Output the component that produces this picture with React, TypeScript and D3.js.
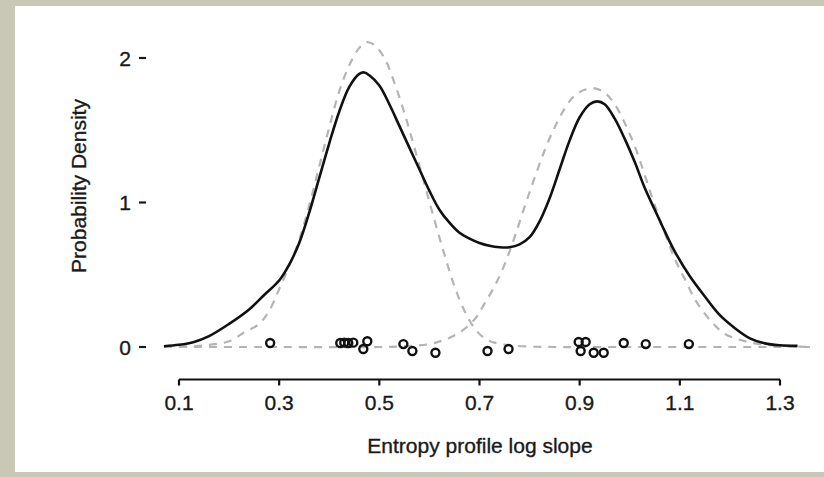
import React from "react";
import * as d3 from "d3";

// ---- data ----
const xTicks = [0.1, 0.3, 0.5, 0.7, 0.9, 1.1, 1.3];
const xTickLabels = ["0.1", "0.3", "0.5", "0.7", "0.9", "1.1", "1.3"];
const yTicks = [0, 1, 2];
const yTickLabels = ["0", "1", "2"];

// kernel density estimate (solid black)
const kdeX = [0.07, 0.1, 0.13, 0.16, 0.2, 0.24, 0.27, 0.3, 0.32, 0.34, 0.36, 0.38, 0.4, 0.42, 0.44, 0.46, 0.47, 0.48, 0.5, 0.52, 0.54, 0.56, 0.58, 0.6, 0.62, 0.64, 0.66, 0.68, 0.7, 0.72, 0.74, 0.76, 0.78, 0.8, 0.82, 0.84, 0.86, 0.88, 0.9, 0.92, 0.935, 0.95, 0.97, 0.99, 1.01, 1.03, 1.05, 1.07, 1.09, 1.12, 1.15, 1.18, 1.21, 1.24, 1.27, 1.3, 1.335];
const kdeY = [0.005, 0.015, 0.035, 0.075, 0.16, 0.26, 0.36, 0.46, 0.57, 0.72, 0.93, 1.17, 1.41, 1.63, 1.8, 1.89, 1.9, 1.88, 1.81, 1.68, 1.53, 1.38, 1.23, 1.08, 0.95, 0.86, 0.79, 0.75, 0.72, 0.7, 0.69, 0.69, 0.71, 0.76, 0.87, 1.03, 1.23, 1.43, 1.59, 1.68, 1.7, 1.68, 1.58, 1.44, 1.28, 1.1, 0.95, 0.8, 0.66, 0.49, 0.35, 0.22, 0.13, 0.06, 0.025, 0.012, 0.008];

// mixture component 1 (dashed grey)
const comp1X = [0.07, 0.12, 0.16, 0.2, 0.23, 0.26, 0.28, 0.3, 0.32, 0.34, 0.36, 0.38, 0.4, 0.42, 0.44, 0.46, 0.475, 0.49, 0.51, 0.53, 0.55, 0.57, 0.59, 0.61, 0.63, 0.65, 0.67, 0.69, 0.71, 0.73, 0.76, 0.8, 0.85, 1.0, 1.2, 1.36];
const comp1Y = [0.0, 0.005, 0.015, 0.04, 0.1, 0.16, 0.25, 0.4, 0.56, 0.74, 0.98, 1.25, 1.52, 1.77, 1.95, 2.07, 2.11, 2.09, 2.0, 1.83, 1.62, 1.38, 1.13, 0.88, 0.64, 0.42, 0.25, 0.13, 0.06, 0.03, 0.012, 0.003, 0.0, 0.0, 0.0, 0.0];

// mixture component 2 (dashed grey)
const comp2X = [0.07, 0.3, 0.5, 0.55, 0.6, 0.63, 0.66, 0.69, 0.71, 0.73, 0.75, 0.77, 0.79, 0.81, 0.83, 0.85, 0.87, 0.89, 0.91, 0.93, 0.95, 0.97, 0.99, 1.01, 1.03, 1.05, 1.07, 1.09, 1.11, 1.13, 1.15, 1.17, 1.19, 1.22, 1.25, 1.29, 1.36];
const comp2Y = [0.0, 0.0, 0.0, 0.005, 0.02, 0.05, 0.1, 0.19, 0.3, 0.42, 0.57, 0.76, 0.97, 1.17, 1.36, 1.52, 1.65, 1.74, 1.78, 1.79, 1.76, 1.68, 1.55, 1.39, 1.19, 0.98, 0.79, 0.61, 0.47, 0.33, 0.23, 0.15, 0.09, 0.05, 0.025, 0.01, 0.0];

// observations (x) with vertical jitter (y, density units)
const obsX = [0.282, 0.422, 0.43, 0.438, 0.448, 0.476, 0.468, 0.548, 0.566, 0.612, 0.716, 0.758, 0.898, 0.912, 0.902, 0.928, 0.948, 0.988, 1.032, 1.118];
const obsJitter = [0.028, 0.028, 0.03, 0.028, 0.03, 0.04, -0.014, 0.02, -0.028, -0.04, -0.028, -0.014, 0.035, 0.035, -0.028, -0.04, -0.04, 0.028, 0.02, 0.02];

const W = 824;
const H = 477;

export default function App() {
  const x = d3.scaleLinear().domain([0.1, 1.3]).range([179, 780]);
  const y = d3.scaleLinear().domain([0, 2]).range([347, 58]);

  const line = d3
    .line<[number, number]>()
    .x((d) => x(d[0]))
    .y((d) => y(d[1]))
    .curve(d3.curveCatmullRom.alpha(0.5));

  const kde = line(kdeX.map((v, i) => [v, kdeY[i]]) as [number, number][]) || "";
  const c1 = line(comp1X.map((v, i) => [v, comp1Y[i]]) as [number, number][]) || "";
  const c2 = line(comp2X.map((v, i) => [v, comp2Y[i]]) as [number, number][]) || "";

  const font = "'Liberation Sans', Arial, Helvetica, sans-serif";
  const axisY = 379.5;
  const txt = { fontSize: 21, fill: "#1a1a1a", stroke: "#1a1a1a", strokeWidth: 0.35 };

  return (
    <div style={{ position: "fixed", left: 0, top: 0, width: W, height: H, overflow: "hidden" }}>
      <svg
        width={W}
        height={H}
        viewBox={`0 0 ${W} ${H}`}
        style={{ display: "block" }}
        fontFamily={font}
      >
        <rect x={0} y={0} width={W} height={H} fill="#c9c7b5" />
        <rect x={15} y={6} width={W} height={H - 11} fill="#ffffff" />

        {/* mixture components */}
        <path d={c1} fill="none" stroke="#b4b4b4" strokeWidth={2.2} strokeDasharray="8,7" />
        <path d={c2} fill="none" stroke="#b4b4b4" strokeWidth={2.2} strokeDasharray="8,7" />
        {/* density */}
        <path d={kde} fill="none" stroke="#111" strokeWidth={2.6} />

        {/* observations */}
        {obsX.map((v, i) => (
          <circle key={i} cx={x(v)} cy={y(obsJitter[i])} r={4} fill="none" stroke="#111" strokeWidth={2.4} />
        ))}

        {/* x axis */}
        <line x1={x(xTicks[0])} x2={x(xTicks[xTicks.length - 1])} y1={axisY} y2={axisY} stroke="#111" strokeWidth={2.2} />
        {xTicks.map((t, i) => (
          <g key={t}>
            <line x1={x(t)} x2={x(t)} y1={axisY} y2={axisY + 6} stroke="#111" strokeWidth={2.2} />
            <text x={x(t)} y={410} textAnchor="middle" {...txt}>
              {xTickLabels[i]}
            </text>
          </g>
        ))}
        <text x={480} y={453} textAnchor="middle" {...txt}>
          Entropy profile log slope
        </text>

        {/* y axis */}
        {yTicks.map((t, i) => (
          <g key={t}>
            <text x={131} y={y(t) + 7.5} textAnchor="end" {...txt}>
              {yTickLabels[i]}
            </text>
            <line x1={139} x2={146} y1={y(t)} y2={y(t)} stroke="#1a1a1a" strokeWidth={2.2} />
          </g>
        ))}
        <text transform={`translate(86,186) rotate(-90)`} textAnchor="middle" {...txt}>
          Probability Density
        </text>
      </svg>
    </div>
  );
}
